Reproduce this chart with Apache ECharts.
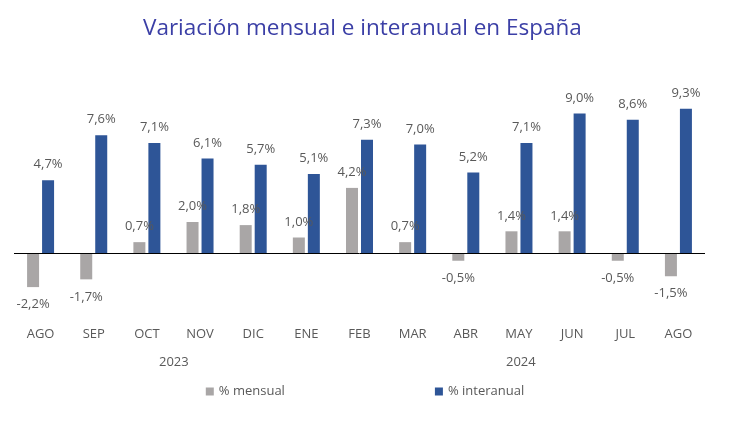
<!DOCTYPE html>
<html><head><meta charset="utf-8">
<script src="https://cdn.jsdelivr.net/npm/echarts@6/dist/echarts.min.js"></script>
<style>html,body{margin:0;padding:0;background:#fff}#c{width:730px;height:426px}</style>
</head><body><div id="c"></div>
<script>
const categories = ['AGO','SEP','OCT','NOV','DIC','ENE','FEB','MAR','ABR','MAY','JUN','JUL','AGO'];
const mensual = [-2.2,-1.7,0.7,2.0,1.8,1.0,4.2,0.7,-0.5,1.4,1.4,-0.5,-1.5];
const interanual = [4.7,7.6,7.1,6.1,5.7,5.1,7.3,7.0,5.2,7.1,9.0,8.6,9.3];
const years = ['2023','2024'];

const fmt = p => p.value.toFixed(1).replace('.', ',') + '%';
const font = '"Open Sans", sans-serif';
const chart = echarts.init(document.getElementById('c'), null, {renderer:'canvas'});
chart.setOption({
  animation:false,
  title:{text:'Variación mensual e interanual en España', left:138, top:12,
    textStyle:{fontFamily:font, fontSize:22.5, fontWeight:'normal', color:'#3B3FA6'}},
  grid:{left:14, right:25, top:98, height:217},
  legend:{bottom:23, left:'center', itemWidth:8, itemHeight:8, itemGap:150, icon:'rect',
    textStyle:{fontFamily:font, fontSize:13, color:'#595959'}},
  xAxis:{type:'category', data:categories, axisLine:{show:false}, axisTick:{show:false},
    axisLabel:{margin:13, fontFamily:font, fontSize:13, color:'#595959'}},
  yAxis:{type:'value', min:-4, max:10, show:false},
  graphic:[
    {type:'text', left:159, top:356, style:{text:years[0], font:'13px "Open Sans", sans-serif', fill:'#595959'}},
    {type:'text', left:506, top:356, style:{text:years[1], font:'13px "Open Sans", sans-serif', fill:'#595959'}}
  ],
  series:[
    {name:'% mensual', type:'bar', barWidth:12, barGap:'25%',
      data: mensual.map(v => v < 0 ? {value:v, label:{position:'bottom', distance:11}} : v),
      itemStyle:{color:'#A9A6A6'},
      label:{show:true, position:'top', distance:9, formatter:fmt, fontFamily:font, fontSize:13, color:'#595959'},
      markLine:{silent:true, symbol:'none', label:{show:false}, lineStyle:{color:'#000', width:1, type:'solid'}, data:[{yAxis:0}]}
    },
    {name:'% interanual', type:'bar', data:interanual, barWidth:12,
      itemStyle:{color:'#2E5597'},
      label:{show:true, position:'top', distance:9, formatter:fmt, fontFamily:font, fontSize:13, color:'#595959'}}
  ]
});
</script></body></html>
